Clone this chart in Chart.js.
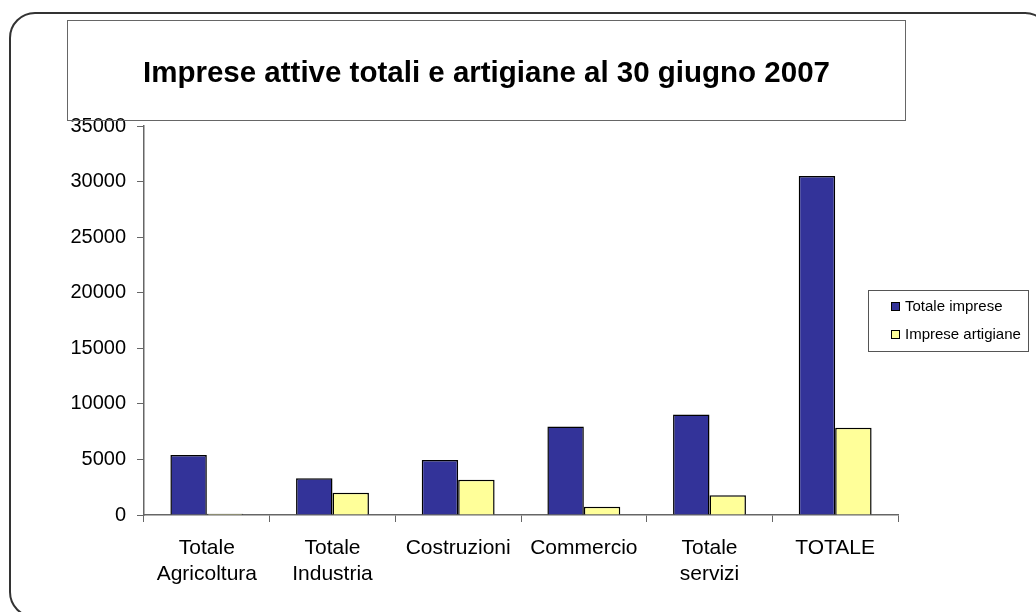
<!DOCTYPE html>
<html lang="it">
<head>
  <meta charset="UTF-8">
  <title>Imprese attive totali e artigiane</title>
  <script src="https://cdn.jsdelivr.net/npm/chart.js"></script>
  <style>
    html, body { margin: 0; padding: 0; background: #fff; }
    body { width: 1036px; height: 612px; position: relative; overflow: hidden; font-family: "Liberation Sans", Arial, sans-serif; }
    #grafico { position: absolute; left: 0; top: 0; }
    .cornice {
      position: absolute; left: 9px; top: 12px; width: 1042px; height: 606px;
      border: 2px solid #333; border-radius: 26px; box-sizing: border-box; pointer-events: none;
    }
    .titolo {
      position: absolute; left: 67px; top: 20px; width: 839px; height: 101px;
      border: 1px solid #666; box-sizing: border-box;
      display: flex; align-items: center; justify-content: center; padding-top: 2px;
      font-weight: bold; font-size: 29.5px; color: #000; pointer-events: none;
    }
  </style>
</head>
<body>
  <canvas id="grafico" width="1036" height="612"></canvas>
  <div class="cornice"></div>
  <div class="titolo">Imprese attive totali e artigiane al 30 giugno 2007</div>

<script>
  // dati
  const categorie = [
    ['Totale', 'Agricoltura'],
    ['Totale', 'Industria'],
    'Costruzioni',
    'Commercio',
    ['Totale', 'servizi'],
    'TOTALE'
  ];
  const totaleImprese = [5400, 3300, 4950, 7970, 9050, 30500];
  const impreseArtigiane = [120, 2000, 3170, 750, 1770, 7850];
  const serie = ['Totale imprese', 'Imprese artigiane'];
  const colori = ['#333399', '#FFFF99'];
  const yMax = 35000;
  const yPasso = 5000;

  const font = '"Liberation Sans", Arial, sans-serif';

  // legenda disegnata a mano, con bordo come in Excel
  const legendaBox = {
    id: 'legendaBox',
    afterDraw(chart) {
      const ctx = chart.ctx;
      ctx.save();
      ctx.strokeStyle = '#555';
      ctx.lineWidth = 1;
      ctx.strokeRect(868.5, 290.5, 160, 61);
      ctx.font = '15px ' + font;
      ctx.textBaseline = 'middle';
      chart.data.datasets.forEach(function (ds, i) {
        const y = 302 + i * 28;
        ctx.fillStyle = ds.backgroundColor;
        ctx.fillRect(891, y, 9, 9);
        ctx.strokeStyle = '#000';
        ctx.strokeRect(891.5, y + 0.5, 8, 8);
        ctx.fillStyle = '#000';
        ctx.fillText(ds.label, 905, y + 4.5);
      });
      ctx.restore();
    }
  };

  const dati = {
    labels: categorie,
    datasets: [
      { label: serie[0], data: totaleImprese, backgroundColor: colori[0] },
      { label: serie[1], data: impreseArtigiane, backgroundColor: colori[1] }
    ]
  };
  dati.datasets.forEach(function (ds) {
    ds.borderColor = '#000';
    ds.borderWidth = 1.5;
    ds.inflateAmount = 0;
    ds.categoryPercentage = 0.58;
    ds.barPercentage = 1.0;
  });

  const config = {
    type: 'bar',
    data: dati,
    options: {
      responsive: false,
      animation: false,
      devicePixelRatio: 1,
      layout: { padding: { top: 126, right: 138, bottom: 0, left: 0 } },
      plugins: {
        legend: { display: false },
        title: { display: false },
        tooltip: { enabled: false }
      },
      scales: {
        x: {
          afterFit: function (scale) { scale.height = 97; },
          grid: { display: true, drawOnChartArea: false, drawTicks: true, tickLength: 7, color: '#666', offset: true },
          border: { display: true, color: '#666', width: 1.5 },
          ticks: { color: '#000', padding: 13, font: { family: font, size: 21, lineHeight: 1.25 } }
        },
        y: {
          min: 0,
          max: yMax,
          afterFit: function (scale) { scale.width = 144; },
          grid: { display: true, drawOnChartArea: false, drawTicks: true, tickLength: 7, color: '#666' },
          border: { display: true, color: '#666', width: 1.5 },
          ticks: {
            stepSize: yPasso,
            color: '#000',
            padding: 11,
            font: { family: font, size: 20 },
            callback: function (v) { return String(v); }
          }
        }
      }
    },
    plugins: [legendaBox]
  };

  new Chart(document.getElementById('grafico'), config);
</script>
</body>
</html>
